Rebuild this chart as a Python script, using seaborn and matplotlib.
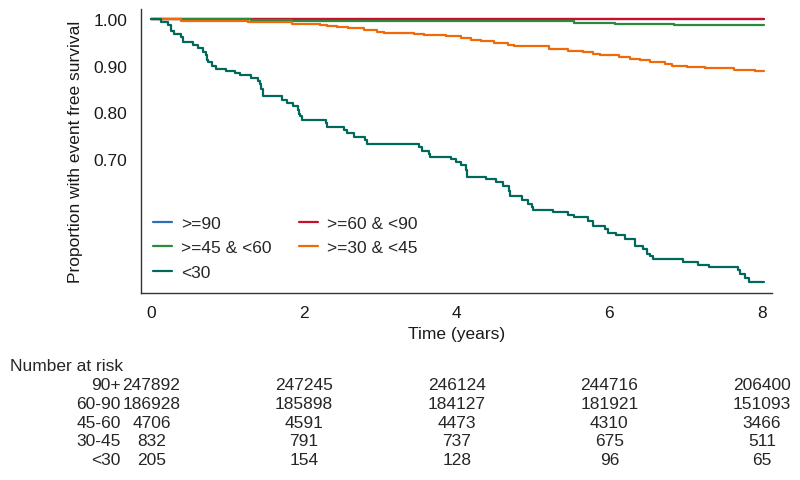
import numpy as np
import pandas as pd
import matplotlib
matplotlib.use("Agg")
import matplotlib.pyplot as plt
import matplotlib.transforms as mtransforms
import seaborn as sns

# Kaplan-Meier style curves (step change times / values)
groups = [">=90", ">=60 & <90", ">=45 & <60", ">=30 & <45", "<30"]
colors = ["#2f6db5", "#c8102e", "#2c8a3c", "#f06a0a", "#00695c"]

t_90 = [0.0, 2.0, 5.0, 8.02]
s_90 = [1.0, 0.9995, 0.999, 0.999]

t_60 = [0.0, 2.0, 4.3, 8.02]
s_60 = [1.0, 0.9995, 0.9988, 0.9988]

t_45 = [0.0, 1.31, 1.84, 4.32, 5.54, 6.07, 6.84, 8.02]
s_45 = [1.0, 0.998, 0.996, 0.995, 0.991, 0.989, 0.987, 0.987]

t_30 = [0.0, 0.39, 1.26, 1.84, 2.21, 2.30, 2.43, 2.58, 2.78, 2.96, 3.04, 3.44,
        3.57, 3.86, 4.05, 4.18, 4.32, 4.49, 4.67, 4.75, 5.21, 5.46, 5.65, 5.79,
        5.87, 6.12, 6.27, 6.40, 6.53, 6.73, 6.82, 7.01, 7.25, 7.63, 7.91, 8.02]
s_30 = [1.0, 0.996, 0.993, 0.989, 0.987, 0.984, 0.982, 0.980, 0.977, 0.973, 0.970,
        0.968, 0.966, 0.963, 0.959, 0.955, 0.952, 0.949, 0.945, 0.942, 0.936, 0.932,
        0.929, 0.925, 0.923, 0.918, 0.914, 0.911, 0.907, 0.904, 0.899, 0.897, 0.894,
        0.891, 0.889, 0.889]

t_lt30 = [0.0, 0.13, 0.21, 0.26, 0.30, 0.39, 0.41, 0.54, 0.61, 0.67, 0.72, 0.73,
          0.74, 0.79, 0.85, 0.98, 1.09, 1.16, 1.31, 1.40, 1.42, 1.44, 1.46, 1.71,
          1.77, 1.86, 1.92, 1.93, 1.95, 1.97, 2.28, 2.30, 2.52, 2.56, 2.65, 2.80,
          2.82, 3.50, 3.55, 3.64, 3.65, 3.92, 3.99, 4.05, 4.12, 4.14, 4.38, 4.51,
          4.60, 4.69, 4.70, 4.86, 4.93, 4.99, 5.00, 5.26, 5.46, 5.54, 5.72, 5.79,
          5.94, 5.98, 6.09, 6.20, 6.33, 6.34, 6.44, 6.49, 6.53, 6.57, 6.97, 7.16,
          7.30, 7.68, 7.71, 7.78, 7.83, 8.02]
s_lt30 = [1.0, 0.993, 0.986, 0.975, 0.968, 0.961, 0.950, 0.944, 0.937, 0.930, 0.923,
          0.911, 0.907, 0.900, 0.893, 0.889, 0.884, 0.879, 0.874, 0.868, 0.861, 0.850,
          0.834, 0.827, 0.820, 0.813, 0.804, 0.797, 0.792, 0.784, 0.777, 0.768, 0.762,
          0.756, 0.748, 0.741, 0.732, 0.725, 0.718, 0.711, 0.705, 0.700, 0.693, 0.686,
          0.677, 0.662, 0.657, 0.650, 0.642, 0.632, 0.621, 0.611, 0.604, 0.597, 0.591,
          0.586, 0.580, 0.575, 0.568, 0.557, 0.550, 0.542, 0.536, 0.529, 0.522, 0.513,
          0.506, 0.497, 0.491, 0.485, 0.480, 0.473, 0.468, 0.461, 0.454, 0.445, 0.437,
          0.437]

risk_labels = ["90+", "60-90", "45-60", "30-45", "<30"]
risk_times = [0, 2, 4, 6, 8]
risk_90 = [247892, 247245, 246124, 244716, 206400]
risk_60 = [186928, 185898, 184127, 181921, 151093]
risk_45 = [4706, 4591, 4473, 4310, 3466]
risk_30 = [832, 791, 737, 675, 511]
risk_lt30 = [205, 154, 128, 96, 65]

curves = [(t_90, s_90), (t_60, s_60), (t_45, s_45), (t_30, s_30), (t_lt30, s_lt30)]
df = pd.concat([pd.DataFrame({"time": t, "surv": s, "group": g})
                for g, (t, s) in zip(groups, curves)], ignore_index=True)

sns.set_style("white")
plt.rcParams["font.family"] = ["Liberation Sans", "DejaVu Sans"]
FS = 12.5

fig = plt.figure(figsize=(8, 4.81), dpi=100)
ax = fig.add_axes([0.176, 0.389, 0.789, 0.590])

sns.lineplot(data=df, x="time", y="surv", hue="group", hue_order=groups,
             palette=colors, drawstyle="steps-post", linewidth=1.6,
             estimator=None, sort=False, ax=ax)

ax.set_xlim(-0.14, 8.13)
ax.set_ylim(0.413, 1.021)
ax.set_xticks([0, 2, 4, 6, 8])
ax.set_yticks([0.70, 0.80, 0.90, 1.00])
ax.set_yticklabels(["0.70", "0.80", "0.90", "1.00"])
ax.tick_params(axis="both", length=0, labelsize=FS, colors="#1a1a1a")
ax.tick_params(axis="y", pad=9.5)
ax.tick_params(axis="x", pad=9)
ax.set_xlabel("Time (years)", fontsize=FS, labelpad=4, color="#1a1a1a")
ax.set_ylabel("Proportion with event free survival", fontsize=FS, labelpad=8,
              color="#1a1a1a")
for side in ["top", "right"]:
    ax.spines[side].set_visible(False)
for side in ["left", "bottom"]:
    ax.spines[side].set_color("#333333")
    ax.spines[side].set_linewidth(1.0)

handles, labels = ax.get_legend_handles_labels()
order = [0, 2, 4, 1, 3]
ax.legend([handles[i] for i in order], [labels[i] for i in order], ncol=2,
          loc="lower left", bbox_to_anchor=(0.019, 0.045), frameon=False,
          borderpad=0, borderaxespad=0, fontsize=FS, handlelength=1.1,
          columnspacing=1.55, labelspacing=0.55, handletextpad=0.55)

# number at risk table
trans = mtransforms.blended_transform_factory(ax.transData, fig.transFigure)
fig.text(0.012, 1 - 367 / 481, "Number at risk", fontsize=FS, va="center")
rows = [risk_90, risk_60, risk_45, risk_30, risk_lt30]
for r, (lab, vals) in enumerate(zip(risk_labels, rows)):
    y = 1 - (386 + r * 18.6) / 481
    fig.text(0.151, y, lab, fontsize=FS, ha="right", va="center")
    for t, v in zip(risk_times, vals):
        ax.text(t, y, str(v), transform=trans, fontsize=FS, ha="center",
                va="center", clip_on=False)

fig.savefig("out.png", dpi=100)
